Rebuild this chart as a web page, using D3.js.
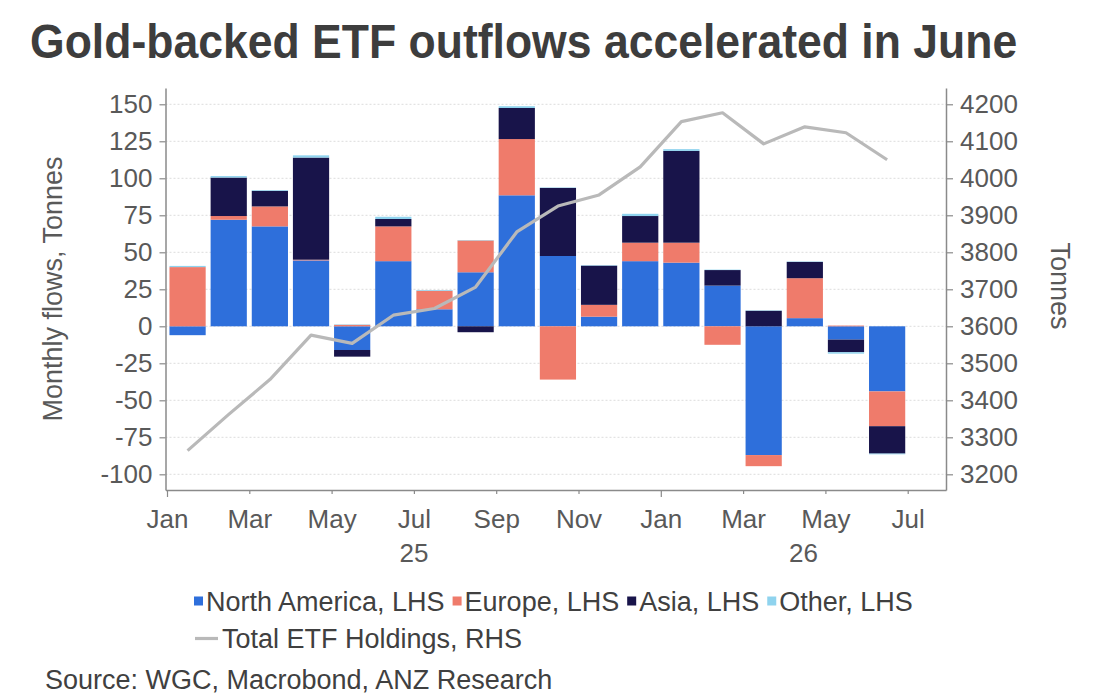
<!DOCTYPE html>
<html>
<head>
<meta charset="utf-8">
<script src="https://cdn.jsdelivr.net/npm/d3@7"></script>
<style>
  html, body { margin: 0; padding: 0; background: #fff; }
  svg { display: block; font-family: "Liberation Sans", Arial, sans-serif; }
</style>
</head>
<body>
<svg id="chart" width="1098" height="696"></svg>
<script>
// ---------------- data ----------------
const months = ["Jan 25","Feb 25","Mar 25","Apr 25","May 25","Jun 25","Jul 25","Aug 25","Sep 25","Oct 25","Nov 25","Dec 25",
                "Jan 26","Feb 26","Mar 26","Apr 26","May 26","Jun 26"];
const northAmerica = [-6, 72, 67.5, 44.5, -16, 44, 11.5, 36.5, 88.5, 47.5, 6.5, 44, 43, 27.5, -87, 5.5, -9, -44];
const europe       = [40, 2.5, 13.5, 0.5, 1, 23.5, 12.5, 21.5, 38, -36, 8, 12.5, 13.5, -12.5, -7.5, 27, 0.5, -23.5];
const asia         = [0, 26, 10.5, 69, -4.5, 5, 0, -4, 21, 46, 26.5, 18, 62, 10.5, 10.5, 11, -8.5, -18.5];
const other        = [0.8, 1, 0.5, 1.5, 0.3, 1.5, 0.5, 0.3, 1.2, 0.3, 0.3, 1.5, 1.2, 0.3, 0.3, 0.3, -1, -0.5];
const totalHoldings = [3264, 3362, 3456, 3576, 3554, 3630, 3648, 3706, 3855, 3925, 3955, 4031, 4153, 4177, 4093, 4139, 4123, 4050];

const monthTickIdx = [0, 2, 4, 6, 8, 10, 12, 14, 16, 18];
const monthTickLabels = ["Jan","Mar","May","Jul","Sep","Nov","Jan","Mar","May","Jul"];
const yearLabels = ["25", "26"];
const leftTicks = [-100, -75, -50, -25, 0, 25, 50, 75, 100, 125, 150];
const rightTicks = [3200, 3300, 3400, 3500, 3600, 3700, 3800, 3900, 4000, 4100, 4200];

const seriesKeys = ["North America, LHS", "Europe, LHS", "Asia, LHS", "Other, LHS"];
const seriesColors = ["#2e6fdb", "#ef7b6b", "#18144a", "#8fd3ee"];
const lineName = "Total ETF Holdings, RHS";
const lineColor = "#b9b9b9";

const title = "Gold-backed ETF outflows accelerated in June";
const leftTitle = "Monthly flows, Tonnes";
const rightTitle = "Tonnes";
const source = "Source: WGC, Macrobond, ANZ Research";

// ---------------- layout ----------------
const svg = d3.select("#chart");
const plot = { left: 165.5, right: 946, top: 88, bottom: 490 };
const textColor = "#595959";
const axisColor = "#8a8a8a";
const plainNum = d => String(d);

const table = months.map((m, i) => ({
  month: m,
  [seriesKeys[0]]: northAmerica[i],
  [seriesKeys[1]]: europe[i],
  [seriesKeys[2]]: asia[i],
  [seriesKeys[3]]: other[i],
  total: totalHoldings[i]
}));

const xLin = d3.scaleLinear().domain([0, 18]).range([167, 907.7]);
const xAxisScale = d3.scaleLinear().domain([xLin.invert(plot.left), xLin.invert(plot.right)]).range([plot.left, plot.right]);
const xBand = d3.scaleBand().domain(months).range([xLin(0), xLin(18)]).paddingInner(0.12).paddingOuter(0.06);

const yL = d3.scaleLinear().domain([-110.6, 161]).range([plot.bottom, plot.top]);
const yR = d3.scaleLinear().domain([3600 - 110.6 * 4, 3600 + 161 * 4]).range([plot.bottom, plot.top]);

// title
svg.append("text").attr("transform", "translate(30,58) scale(1.012,1.1)")
  .attr("font-size", 44).attr("font-weight", "bold").attr("fill", "#3d3d3d")
  .text(title);

// gridlines
svg.append("g").selectAll("line").data(leftTicks).join("line")
  .attr("x1", plot.left).attr("x2", plot.right)
  .attr("y1", d => yL(d)).attr("y2", d => yL(d))
  .attr("stroke", "#dcdcdc").attr("stroke-width", 1).attr("stroke-dasharray", "2,2");

// bars
const stack = d3.stack().keys(seriesKeys).offset(d3.stackOffsetDiverging);
const stacked = stack(table);
svg.append("g").selectAll("g").data(stacked).join("g")
  .attr("fill", (d, i) => seriesColors[i])
  .selectAll("rect").data(d => d).join("rect")
  .attr("x", d => xBand(d.data.month))
  .attr("width", xBand.bandwidth())
  .attr("y", d => yL(Math.max(d[0], d[1])))
  .attr("height", d => Math.abs(yL(d[0]) - yL(d[1])));

// line
const line = d3.line()
  .x(d => xBand(d.month) + xBand.bandwidth() / 2)
  .y(d => yR(d.total));
svg.append("path").datum(table)
  .attr("d", line).attr("fill", "none")
  .attr("stroke", lineColor).attr("stroke-width", 3.2).attr("stroke-linejoin", "round");

// left axis
const gL = svg.append("g").attr("transform", `translate(${plot.left},0)`)
  .call(d3.axisLeft(yL).tickValues(leftTicks).tickFormat(plainNum).tickSize(6).tickSizeOuter(0).tickPadding(7));
// right axis
const gR = svg.append("g").attr("transform", `translate(${plot.right},0)`)
  .call(d3.axisRight(yR).tickValues(rightTicks).tickFormat(plainNum).tickSize(7).tickSizeOuter(0).tickPadding(7));
// bottom axis
const gB = svg.append("g").attr("transform", `translate(0,${plot.bottom})`)
  .call(d3.axisBottom(xAxisScale).tickValues(monthTickIdx)
    .tickFormat((d, i) => monthTickLabels[i]).tickSize(4).tickSizeOuter(0).tickPadding(15.5));
gB.selectAll(".tick line").attr("y2", d => (d % 12 === 0 ? 7 : 4));

[gL, gR, gB].forEach(g => {
  g.select(".domain").attr("stroke", axisColor).attr("stroke-width", 1.5);
  g.selectAll(".tick line").attr("stroke", axisColor).attr("stroke-width", 1.2);
  g.selectAll(".tick text").attr("fill", textColor).attr("font-size", 26)
    .attr("font-family", "'Liberation Sans', Arial, sans-serif");
});

// year labels
const yearCenters = [(xLin(0) + xLin(12)) / 2, (xLin(12) + plot.right) / 2];
svg.append("g").selectAll("text").data(yearLabels).join("text")
  .attr("x", (d, i) => yearCenters[i]).attr("y", 562)
  .attr("text-anchor", "middle").attr("font-size", 26).attr("fill", textColor)
  .text(d => d);

// axis titles
svg.append("text").attr("transform", "translate(62,289) rotate(-90)")
  .attr("text-anchor", "middle").attr("font-size", 27).attr("fill", textColor).text(leftTitle);
svg.append("text").attr("transform", "translate(1051,286) rotate(90)")
  .attr("text-anchor", "middle").attr("font-size", 27).attr("fill", textColor).text(rightTitle);

// legend
const legFont = 27;
let lx = 194;
const row1y = 610.5;
seriesKeys.forEach((k, i) => {
  svg.append("rect").attr("x", lx).attr("y", row1y - 14).attr("width", 9).attr("height", 9).attr("fill", seriesColors[i]);
  const t = svg.append("text").attr("x", lx + 12).attr("y", row1y)
    .attr("font-size", legFont).attr("fill", "#404040").text(k);
  lx += 12 + t.node().getComputedTextLength() + 8;
});
const row2y = 648;
svg.append("line").attr("x1", 195).attr("x2", 218).attr("y1", row2y - 9.5).attr("y2", row2y - 9.5)
  .attr("stroke", lineColor).attr("stroke-width", 3.2);
svg.append("text").attr("x", 222).attr("y", row2y)
  .attr("font-size", legFont).attr("fill", "#404040").text(lineName);

// source
svg.append("text").attr("x", 45).attr("y", 689)
  .attr("font-size", 27).attr("fill", "#404040").text(source);
</script>
</body>
</html>
